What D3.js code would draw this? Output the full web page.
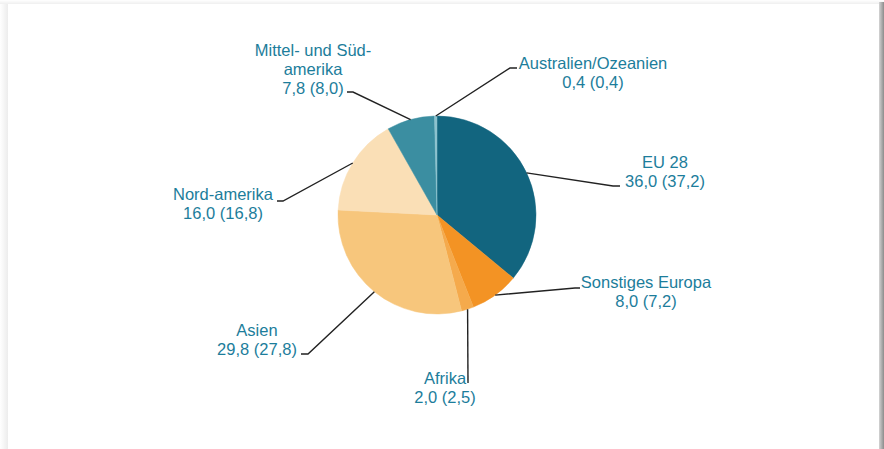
<!DOCTYPE html>
<html>
<head>
<meta charset="utf-8">
<script src="https://cdn.jsdelivr.net/npm/d3@7"></script>
<style>
  html, body { margin: 0; padding: 0; background: #fff; }
  svg { display: block; }
  .lbl { font-family: "Liberation Sans", Arial, sans-serif; font-size: 16.5px; fill: #1c7d9b; }
  .leader { fill: none; stroke: #222; stroke-width: 1.4; }
</style>
</head>
<body>
<div id="chart"></div>
<script>
// data -------------------------------------------------------------
var regions = ["EU 28", "Sonstiges Europa", "Afrika", "Asien", "Nord-amerika",
               "Mittel- und Süd-amerika", "Australien/Ozeanien"];
var shares = [36.0, 8.0, 2.0, 29.8, 16.0, 7.8, 0.4];       // current year
var sharesPrev = [37.2, 7.2, 2.5, 27.8, 16.8, 8.0, 0.4];   // value in brackets
var labelLines = [["EU 28"], ["Sonstiges Europa"], ["Afrika"], ["Asien"], ["Nord-amerika"],
                  ["Mittel- und Süd-", "amerika"], ["Australien/Ozeanien"]];
var colours = ["#12657f", "#f39324", "#f5aa4c", "#f7c67c", "#fadfb6", "#3b8ea1", "#8cc2ce"];

// label layout: elbow of leader, end of leader, text centre, first baseline
var layout = [
  {ex: 613, ey: 186, hx: 620, tx: 665, ty: 168},
  {ex: 575, ey: 288, hx: 580, tx: 646, ty: 288},
  {ex: 468, ey: 383, hx: 468, tx: 445, ty: 384},
  {ex: 308, ey: 354, hx: 301, tx: 257, ty: 336},
  {ex: 283, ey: 201, hx: 277, tx: 223, ty: 200},
  {ex: 353, ey: 92,  hx: 347, tx: 313, ty: 56},
  {ex: 510, ey: 68,  hx: 517, tx: 593, ty: 69}
];

var fmt = function(v) { return d3.format(".1f")(v).replace(".", ","); };

var W = 884, H = 449;
var cx = 437, cy = 215, radius = 99;

var svg = d3.select("#chart").append("svg")
    .attr("width", W)
    .attr("height", H);

// card with shadow --------------------------------------------------
var defs = svg.append("defs");
var gr = defs.append("linearGradient").attr("id", "shR");
gr.append("stop").attr("offset", "0%").attr("stop-color", "#d4d4d4");
gr.append("stop").attr("offset", "100%").attr("stop-color", "#8c8c8c");
var gl = defs.append("linearGradient").attr("id", "shL");
gl.append("stop").attr("offset", "0%").attr("stop-color", "#ffffff");
gl.append("stop").attr("offset", "100%").attr("stop-color", "#ececec");
var gt = defs.append("linearGradient").attr("id", "shT").attr("x2", 0).attr("y2", 1);
gt.append("stop").attr("offset", "0%").attr("stop-color", "#ffffff");
gt.append("stop").attr("offset", "100%").attr("stop-color", "#efefef");

svg.append("rect").attr("x", 0).attr("y", 0).attr("width", 8).attr("height", H).attr("fill", "url(#shL)");
svg.append("rect").attr("x", 0).attr("y", 0).attr("width", W).attr("height", 4).attr("fill", "url(#shT)");
svg.append("rect").attr("x", 879).attr("y", 2).attr("width", 5).attr("height", H).attr("fill", "url(#shR)");
svg.append("rect").attr("x", 8).attr("y", 4).attr("width", 871).attr("height", H).attr("fill", "#fff");

// pie ---------------------------------------------------------------
var data = regions.map(function(r, i) {
  return {name: r, value: shares[i], prev: sharesPrev[i], lines: labelLines[i], colour: colours[i], pos: layout[i]};
});

var pie = d3.pie().sort(null).value(function(d) { return d.value; });
var arc = d3.arc().innerRadius(0).outerRadius(radius);
var arcs = pie(data);

var g = svg.append("g").attr("transform", "translate(" + cx + "," + cy + ")");

g.selectAll("path.slice")
  .data(arcs)
  .enter().append("path")
    .attr("class", "slice")
    .attr("d", arc)
    .attr("fill", function(d) { return d.data.colour; })
    .attr("stroke", function(d) { return d.data.colour; })
    .attr("stroke-width", 0.5);

// leaders from the slice edge at its middle angle
var edge = function(d) {
  var a = (d.startAngle + d.endAngle) / 2;
  return [cx + radius * Math.sin(a), cy - radius * Math.cos(a)];
};

svg.selectAll("polyline.leader")
  .data(arcs)
  .enter().append("polyline")
    .attr("class", "leader")
    .attr("points", function(d) {
      var p = edge(d), q = d.data.pos;
      return [p, [q.ex, q.ey], [q.hx, q.ey]].map(function(c) { return c.join(","); }).join(" ");
    });

// labels
var lbl = svg.selectAll("text.lbl")
  .data(arcs)
  .enter().append("text")
    .attr("class", "lbl")
    .attr("text-anchor", "middle")
    .attr("x", function(d) { return d.data.pos.tx; })
    .attr("y", function(d) { return d.data.pos.ty; });

lbl.each(function(d) {
  var t = d3.select(this);
  var rows = d.data.lines.concat([fmt(d.data.value) + " (" + fmt(d.data.prev) + ")"]);
  rows.forEach(function(s, i) {
    t.append("tspan")
      .attr("x", d.data.pos.tx)
      .attr("dy", i === 0 ? 0 : 19)
      .text(s);
  });
});
</script>
</body>
</html>
